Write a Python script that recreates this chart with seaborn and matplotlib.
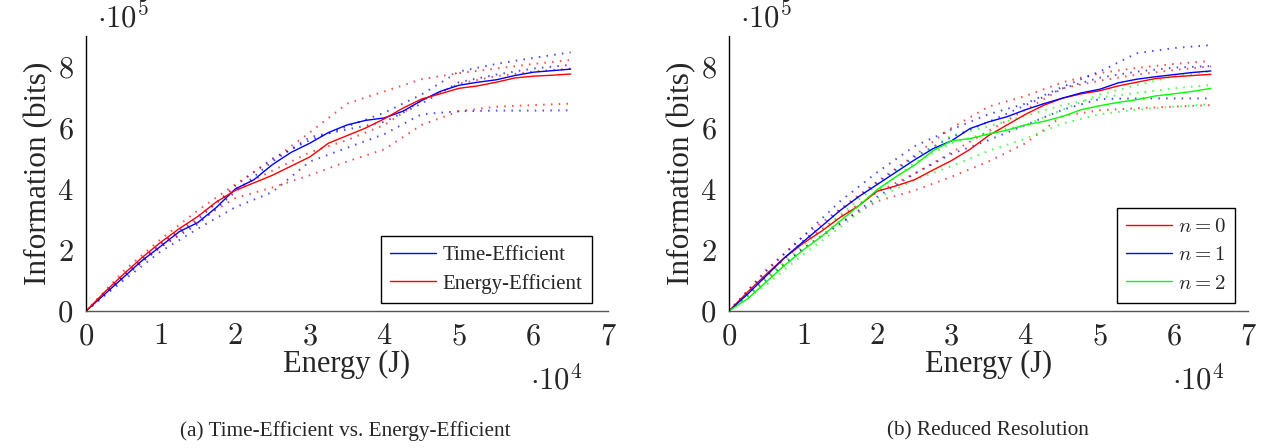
import numpy as np
import pandas as pd
import matplotlib
matplotlib.use("Agg")
import matplotlib.pyplot as plt
import seaborn as sns
from matplotlib.ticker import FuncFormatter, MultipleLocator

# energy grids (x 1e4 J)
energy_fine = [0, 0.25, 0.5, 0.75, 1.0, 1.25, 1.5, 1.75, 2.0, 2.25, 2.5, 2.75, 3.0, 3.25,
               3.5, 3.75, 4.0, 4.25, 4.5, 4.75, 5.0, 5.25, 5.5, 5.75, 6.0, 6.25, 6.5]
energy_runs = [0, 0.5, 1.0, 1.5, 2.0, 2.5, 3.0, 3.5, 4.0, 4.5, 5.0, 5.5, 6.0, 6.5]

# ---- (a) Time-Efficient vs. Energy-Efficient (information x 1e5 bits) ----
time_eff_mean = [0, 0.55, 1.1, 1.65, 2.12, 2.6, 2.9, 3.4, 4.0, 4.3, 4.8, 5.2, 5.5, 5.85,
                 6.1, 6.25, 6.33, 6.55, 6.9, 7.2, 7.4, 7.5, 7.58, 7.72, 7.83, 7.88, 7.93]
energy_eff_mean = [0, 0.62, 1.2, 1.75, 2.25, 2.7, 3.1, 3.58, 3.95, 4.2, 4.45, 4.75, 5.05, 5.5,
                   5.75, 6.0, 6.3, 6.65, 6.95, 7.12, 7.3, 7.38, 7.5, 7.64, 7.7, 7.73, 7.77]
time_eff_runs = [
    [0, 1.15, 2.2, 3.0, 4.1, 5.0, 5.6, 6.05, 6.5, 7.1, 7.85, 8.1, 8.3, 8.48],
    [0, 1.1, 2.1, 2.85, 3.9, 4.9, 5.7, 5.95, 6.2, 6.8, 7.5, 7.75, 7.95, 8.07],
    [0, 1.0, 1.95, 2.7, 3.4, 3.9, 4.9, 5.35, 5.8, 6.45, 6.55, 6.57, 6.57, 6.58],
]
energy_eff_runs = [
    [0, 1.3, 2.35, 3.3, 4.15, 4.95, 5.85, 6.8, 7.2, 7.6, 7.8, 7.95, 8.1, 8.23],
    [0, 1.2, 2.2, 3.1, 4.0, 4.6, 5.2, 5.6, 6.1, 6.9, 7.45, 7.7, 7.85, 7.95],
    [0, 1.1, 2.1, 2.95, 3.7, 4.05, 4.45, 4.9, 5.3, 6.1, 6.55, 6.7, 6.75, 6.8],
]

# ---- (b) Reduced Resolution ----
n0_mean = [0, 0.62, 1.2, 1.75, 2.22, 2.62, 3.07, 3.45, 3.93, 4.1, 4.3, 4.62, 4.93, 5.3,
           5.75, 6.1, 6.45, 6.75, 6.98, 7.12, 7.22, 7.38, 7.5, 7.62, 7.68, 7.72, 7.76]
n1_mean = [0, 0.55, 1.15, 1.75, 2.27, 2.78, 3.3, 3.75, 4.15, 4.55, 4.95, 5.32, 5.58, 5.98,
           6.2, 6.37, 6.6, 6.8, 6.98, 7.15, 7.27, 7.48, 7.6, 7.68, 7.75, 7.82, 7.87]
n2_mean = [0, 0.4, 0.95, 1.5, 2.0, 2.45, 2.95, 3.45, 3.98, 4.4, 4.78, 5.25, 5.58, 5.65,
           5.8, 5.93, 6.1, 6.22, 6.38, 6.6, 6.73, 6.84, 6.93, 7.05, 7.12, 7.2, 7.3]
n0_runs = [
    [0, 1.35, 2.45, 3.35, 4.25, 5.1, 6.0, 6.7, 7.05, 7.5, 7.8, 7.97, 8.1, 8.2],
    [0, 1.2, 2.25, 3.1, 3.9, 4.5, 5.2, 5.9, 6.6, 7.3, 7.55, 7.75, 7.9, 8.02],
    [0, 1.1, 2.05, 2.9, 3.6, 3.95, 4.4, 4.9, 5.5, 6.4, 6.58, 6.65, 6.7, 6.75],
]
n1_runs = [
    [0, 1.3, 2.45, 3.6, 4.55, 5.4, 5.95, 6.45, 6.8, 7.35, 7.85, 8.45, 8.62, 8.72],
    [0, 1.15, 2.3, 3.3, 4.2, 5.05, 5.7, 6.2, 6.75, 7.3, 7.65, 7.85, 7.98, 8.03],
    [0, 1.0, 2.05, 2.85, 3.75, 4.5, 5.15, 5.6, 6.1, 6.6, 6.95, 6.97, 6.97, 6.97],
]
n2_runs = [
    [0, 1.05, 2.15, 3.15, 4.15, 5.0, 5.75, 6.05, 6.4, 6.75, 7.0, 7.15, 7.3, 7.41],
    [0, 0.95, 2.0, 2.95, 3.95, 4.85, 5.5, 5.85, 6.1, 6.6, 7.1, 7.4, 7.7, 7.85],
    [0, 0.85, 1.85, 2.75, 3.7, 4.3, 4.75, 5.25, 5.65, 6.15, 6.45, 6.6, 6.7, 6.78],
]

BLUE, RED, GREEN = "#0000ff", "#ff0000", "#00ff00"

sns.set_style("white")
plt.rcParams["font.family"] = ["Liberation Serif", "DejaVu Serif"]
plt.rcParams["mathtext.fontset"] = "cm"

fig = plt.figure(figsize=(12.71, 4.48), dpi=100)
ax_a = fig.add_axes([86 / 1271, 137 / 448, 522 / 1271, 274.5 / 448])
ax_b = fig.add_axes([729 / 1271, 137 / 448, 519 / 1271, 274.5 / 448])


def draw(ax, groups):
    # groups: list of (label, color, mean, runs)
    for label, color, mean, runs in groups:
        for run in runs:
            df = pd.DataFrame({"energy": np.array(energy_runs) * 1e4, "info": np.array(run) * 1e5})
            sns.lineplot(data=df, x="energy", y="info", ax=ax, color=color, lw=1.4,
                         linestyle=(0, (0.8, 3.2)), alpha=0.7, estimator=None, legend=False)
    for label, color, mean, runs in groups:
        df = pd.DataFrame({"energy": np.array(energy_fine) * 1e4, "info": np.array(mean) * 1e5})
        sns.lineplot(data=df, x="energy", y="info", ax=ax, color=color, lw=1.0,
                     estimator=None, label=label)

    ax.set_xlim(0, 7e4)
    ax.set_ylim(0, 9e5)
    ax.xaxis.set_major_locator(MultipleLocator(1e4))
    ax.yaxis.set_major_locator(MultipleLocator(2e5))
    ax.xaxis.set_major_formatter(FuncFormatter(lambda v, p: f"${v / 1e4:g}$"))
    ax.yaxis.set_major_formatter(FuncFormatter(lambda v, p: f"${v / 1e5:g}$" if v <= 8e5 else ""))
    ax.tick_params(direction="in", length=11, width=1.0, color="#a0a0a0",
                   labelsize=22, pad=9)
    ax.tick_params(axis="x", pad=8)
    ax.spines["top"].set_visible(False)
    ax.spines["right"].set_visible(False)
    ax.spines["left"].set_color("black")
    ax.spines["bottom"].set_color("#555555")
    for s in ("left", "bottom"):
        ax.spines[s].set_linewidth(1.0)
    ax.set_xlabel("Energy (J)", fontsize=22, labelpad=-1)
    ax.set_ylabel("Information (bits)", fontsize=22.5, labelpad=3)


draw(ax_a, [("Time-Efficient", BLUE, time_eff_mean, time_eff_runs),
            ("Energy-Efficient", RED, energy_eff_mean, energy_eff_runs)])
draw(ax_b, [(r"$n=0$", RED, n0_mean, n0_runs),
            (r"$n=1$", BLUE, n1_mean, n1_runs),
            (r"$n=2$", GREEN, n2_mean, n2_runs)])

for ax, anchor in ((ax_a, (0.969, 0.029)), (ax_b, (0.975, 0.029))):
    leg = ax.legend(loc="lower right", bbox_to_anchor=anchor, borderaxespad=0,
                    fontsize=15, frameon=True, fancybox=False, framealpha=1,
                    handlelength=2.2, handletextpad=0.3, labelspacing=0.42,
                    borderpad=0.45)
    leg.get_frame().set_edgecolor("black")
    leg.get_frame().set_linewidth(1.0)

# axis multipliers
fig.text(97 / 1271, 1 - 18 / 448, r"$\cdot 10^{5}$", fontsize=22, ha="left", va="center")
fig.text(740 / 1271, 1 - 18 / 448, r"$\cdot 10^{5}$", fontsize=22, ha="left", va="center")
fig.text(530 / 1271, 1 - 381 / 448, r"$\cdot 10^{4}$", fontsize=22, ha="left", va="center")
fig.text(1172 / 1271, 1 - 381 / 448, r"$\cdot 10^{4}$", fontsize=22, ha="left", va="center")

# sub-captions
fig.text(345 / 1271, 1 - 431 / 448, "(a) Time-Efficient vs. Energy-Efficient",
         fontsize=15.3, ha="center", va="center")
fig.text(988 / 1271, 1 - 431 / 448, "(b) Reduced Resolution",
         fontsize=15.3, ha="center", va="center")

fig.savefig("out.png", dpi=100)
plt.close(fig)
